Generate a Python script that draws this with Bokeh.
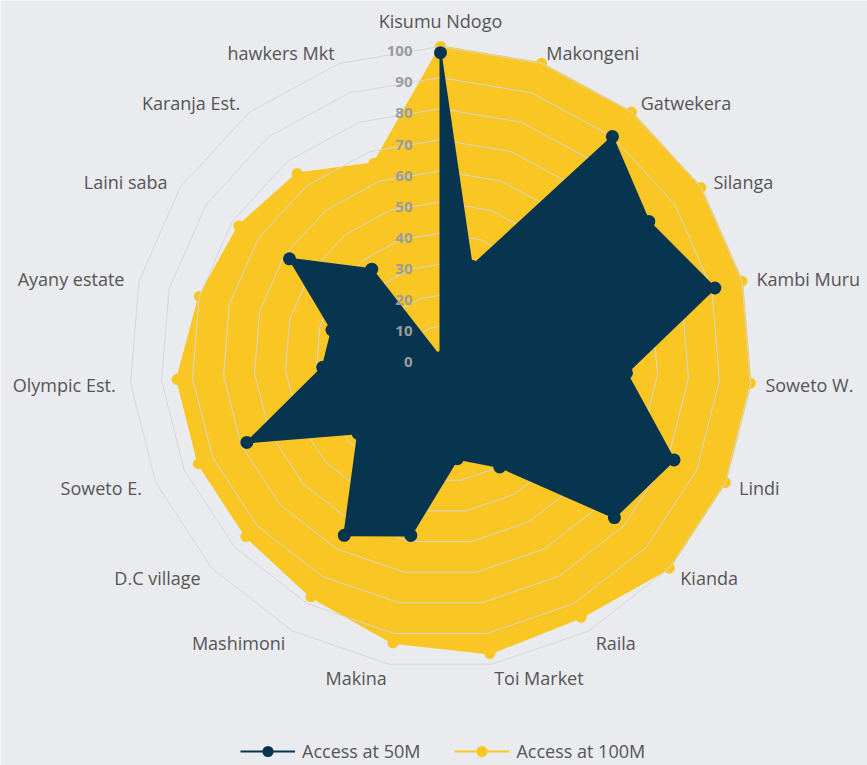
import numpy as np
from bokeh.plotting import figure
from bokeh.models import Range1d, Legend, LegendItem
from bokeh.embed import file_html
from bokeh.resources import INLINE
from bokeh.core.properties import value

# ---------------- data ----------------
categories = ["Kisumu Ndogo", "Makongeni", "Gatwekera", "Silanga", "Kambi Muru",
              "Soweto W.", "Lindi", "Kianda", "Raila", "Toi Market", "Makina",
              "Mashimoni", "D.C village", "Soweto E.", "Olympic Est.",
              "Ayany estate", "Laini saba", "Karanja Est.", "hawkers Mkt"]
access_50m = [98, 31, 90, 80, 91, 60, 82, 76, 40, 33, 58, 65, 36, 68, 38, 36, 58, 36, 0]
access_100m = [100, 100, 100, 100, 100, 100, 100, 100, 95, 96.5, 93, 87.5, 85, 85, 85, 80, 77.5, 75, 66]
series_names = ["Access at 50M", "Access at 100M"]
ticks = [0, 10, 20, 30, 40, 50, 60, 70, 80, 90, 100]
tick_labels = [str(t) for t in ticks]

# ---------------- style ----------------
BG = "#E9EBEF"
YEL = "#F9C623"
NAVY = "#073550"
GRID = "#D6D6D6"
FONT = "Open Sans"

W, H = 867, 765
PX = 3.11            # pixels per value unit
CX, CY = 440, 357    # centre of the pane inside the figure (px from top-left)

p = figure(width=W, height=H, output_backend="svg", toolbar_location=None,
           x_range=Range1d(-CX / PX, (W - CX) / PX),
           y_range=Range1d(-(H - CY) / PX, CY / PX),
           x_axis_type=None, y_axis_type=None, min_border=0,
           background_fill_color=BG, border_fill_color=BG, outline_line_color=None)
p.grid.visible = False

N = len(categories)
theta = 2 * np.pi * np.arange(N) / N
sin_t, cos_t = np.sin(theta), np.cos(theta)


def closed(vals):
    v = np.asarray(vals, dtype=float)
    xs = v * sin_t
    ys = v * cos_t
    return list(xs) + [xs[0]], list(ys) + [ys[0]]

# yellow series
yx, yy = closed(access_100m)
p.patch(yx, yy, fill_color=YEL, line_color=None)
y_line = p.line(yx, yy, line_color=YEL, line_width=2)
y_pts = p.scatter(list(np.asarray(access_100m) * sin_t), list(np.asarray(access_100m) * cos_t),
                  size=11, fill_color=YEL, line_color=None)

# grid polygons
gxs, gys = [], []
for t in ticks[1:]:
    gx, gy = closed([t] * N)
    gxs.append(gx)
    gys.append(gy)
p.multi_line(gxs, gys, line_color=GRID, line_width=1)

# navy series
nx, ny = closed(access_50m)
p.patch(nx, ny, fill_color=NAVY, line_color=None)
n_line = p.line(nx, ny, line_color=NAVY, line_width=2)
n_pts = p.scatter(list(np.asarray(access_50m) * sin_t), list(np.asarray(access_50m) * cos_t),
                  size=13, fill_color=NAVY, line_color=None)

# radial tick labels
p.text(x=[-28 / PX] * len(ticks), y=[t - 4.7 / PX for t in ticks], text=tick_labels,
       text_align="right", text_baseline="middle", text_font=value(FONT),
       text_font_style="bold", text_font_size="15px", text_color="#9C9C9C")

# category labels
r_lab = 326 / PX
lx, ly, la = [], [], []
for i in range(N):
    x = r_lab * sin_t[i]
    y = r_lab * cos_t[i]
    if i == 0:
        y = 337 / PX
        a = "center"
    elif i < N / 2:
        a = "left"
        y -= (1 + 2.5 * cos_t[i]) / PX
    else:
        a = "right"
        y -= (1 + 2.5 * cos_t[i]) / PX
    lx.append(x); ly.append(y); la.append(a)
for a in ("center", "left", "right"):
    idx = [i for i in range(N) if la[i] == a]
    p.text(x=[lx[i] for i in idx], y=[ly[i] for i in idx], text=[categories[i] for i in idx],
           text_align=a, text_baseline="middle", text_font=value(FONT),
           text_font_size="18px", text_color="#555555")

legend = Legend(items=[LegendItem(label=series_names[0], renderers=[n_line, n_pts]),
                       LegendItem(label=series_names[1], renderers=[y_line, y_pts])],
                orientation="horizontal", location=(240, 0),
                glyph_width=55, glyph_height=28, label_height=28, label_standoff=7,
                spacing=34, padding=0, margin=0, border_line_color=None,
                background_fill_alpha=0, label_text_font=FONT,
                label_text_font_size="18px", label_text_color="#555555")
p.add_layout(legend)

open("out.html", "w").write(file_html(p, INLINE))
